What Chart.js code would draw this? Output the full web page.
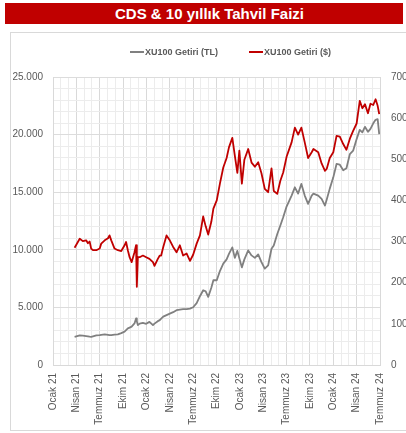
<!DOCTYPE html>
<html>
<head>
<meta charset="utf-8">
<script src="https://cdn.jsdelivr.net/npm/chart.js@4.4.1/dist/chart.umd.min.js"></script>
<style>
  html, body { margin: 0; padding: 0; background: #fff; width: 406px; height: 433px; overflow: hidden; }
  #title {
    position: absolute; left: 5px; top: 3px; width: 398px; height: 21px;
    background: #C00000; color: #fff;
    font: bold 15px "Liberation Sans", Arial, sans-serif; line-height: 22px;
    text-align: center; padding-left: 11px; box-sizing: border-box; white-space: nowrap;
  }
  #box { position: absolute; left: 10px; top: 32px; width: 430px; height: 397px; border: 1px solid #d9d9d9; }
  #wrap { position: absolute; left: 11px; top: 33px; width: 420px; height: 397px; }
  #legend {
    position: absolute; left: 130px; top: 46px; height: 12px;
    display: flex; align-items: center; white-space: nowrap;
    font: bold 9px "Liberation Sans", Arial, sans-serif; color: #595959;
  }
  #legend .item { display: flex; align-items: center; margin-right: 31px; }
  #legend .swatch { display: inline-block; width: 14px; height: 2px; margin-right: 1px; }
</style>
</head>
<body>
<div id="title">CDS &amp; 10 yıllık Tahvil Faizi</div>
<div id="box"></div>
<div id="wrap"><canvas id="c"></canvas></div>
<div id="legend"></div>
<script>
// Observation dates
const dates = [
  '2021-03-25','2021-04-14','2021-04-26','2021-05-09','2021-05-16','2021-05-23','2021-05-29','2021-06-05',
  '2021-06-18','2021-07-01','2021-07-07','2021-07-21','2021-08-03','2021-08-09','2021-08-16','2021-08-29',
  '2021-09-11','2021-09-24','2021-10-07','2021-10-13','2021-10-20','2021-10-27','2021-11-04','2021-11-15',
  '2021-11-21','2021-11-24','2021-11-28','2021-12-05','2021-12-18','2021-12-31','2022-01-13','2022-01-27',
  '2022-02-02','2022-02-14','2022-02-21','2022-02-26','2022-03-06','2022-03-19','2022-04-01','2022-04-14',
  '2022-04-27','2022-05-10','2022-05-23','2022-06-06','2022-06-19','2022-07-01','2022-07-15','2022-07-28',
  '2022-08-10','2022-08-20','2022-08-30','2022-09-11','2022-09-19','2022-10-02','2022-10-15','2022-10-28',
  '2022-11-10','2022-11-19','2022-12-02','2022-12-12','2022-12-22','2022-12-30','2023-01-09','2023-01-19',
  '2023-02-03','2023-02-15','2023-02-27','2023-03-12','2023-03-25','2023-04-07','2023-04-20','2023-05-03',
  '2023-05-12','2023-05-26','2023-06-07','2023-06-18','2023-07-01','2023-07-21','2023-08-03','2023-08-16',
  '2023-08-29','2023-09-11','2023-09-24','2023-10-08','2023-10-15','2023-11-03','2023-11-16','2023-11-29',
  '2023-12-06','2023-12-18','2024-01-01','2024-01-14','2024-01-27','2024-02-09','2024-02-21','2024-03-05',
  '2024-03-18','2024-04-01','2024-04-13','2024-04-23','2024-05-03','2024-05-15','2024-05-25','2024-06-05',
  '2024-06-14','2024-06-22','2024-06-28'
];

// XU100 return index in TL (left axis)
const xu100TL = [
  2450, 2570, 2550, 2510, 2490, 2465, 2450, 2490,
  2570, 2595, 2620, 2655, 2620, 2595, 2595, 2630,
  2655, 2770, 2900, 3030, 3175, 3245, 3330, 3605,
  4040, 3805, 3460, 3590, 3650, 3575, 3745, 3460,
  3590, 3805, 3895, 4020, 4195, 4325, 4455, 4585,
  4760, 4800, 4845, 4845, 4890, 5015, 5365, 5970,
  6490, 6400, 5910, 6705, 7355, 7355, 8175, 8800,
  9170, 9645, 10210, 9300, 9905, 9255, 8475, 9170,
  9950, 9515, 9300, 9600, 8935, 8365, 8650, 10095,
  10380, 11375, 12110, 12830, 13755, 14705, 15425, 14880,
  15720, 14705, 13990, 14705, 14880, 14705, 14420, 13840,
  14360, 15310, 16290, 17450, 17390, 16910, 17085, 18315,
  18600, 19610, 20415, 20200, 20675, 20240, 20500, 20975,
  21280, 21340, 20045
];

// XU100 return index in USD (right axis)
const xu100USD = [
  285, 307, 301, 303, 296, 300, 283, 279,
  279, 283, 295, 303, 308, 315, 303, 283,
  279, 277, 291, 299, 279, 262, 250, 274,
  291, 190, 262, 262, 266, 262, 258, 250,
  241, 258, 266, 266, 287, 315, 303, 287,
  274, 291, 266, 271, 253, 268, 295, 315,
  361, 337, 317, 348, 380, 400, 442, 480,
  503, 529, 552, 509, 467, 521, 441, 499,
  525, 492, 482, 493, 466, 428, 420, 478,
  423, 416, 448, 468, 506, 541, 577, 560,
  577, 541, 503, 517, 525, 517, 490, 472,
  477, 503, 517, 557, 555, 537, 523, 550,
  569, 587, 642, 624, 634, 612, 635, 632,
  646, 630, 610
];

// Quarterly axis labels (one every three months from January 2021)
const tickLabels = [
  'Ocak 21','Nisan 21','Temmuz 21','Ekim 21',
  'Ocak 22','Nisan 22','Temmuz 22','Ekim 22',
  'Ocak 23','Nisan 23','Temmuz 23','Ekim 23',
  'Ocak 24','Nisan 24','Temmuz 24'
];

const seriesNames = ['XU100 Getiri (TL)', 'XU100 Getiri ($)'];
const seriesColors = ['#808080', '#C00000'];

// Months elapsed since 1 January 2021, as a fractional number
function monthPos(d) {
  const [y, m, day] = d.split('-').map(Number);
  const dim = new Date(y, m, 0).getDate();
  return (y - 2021) * 12 + (m - 1) + (day - 1) / dim;
}

// Turkish thousands separator
function fmtTR(v) {
  return String(v).replace(/\B(?=(\d{3})+(?!\d))/g, '.');
}

const xs = dates.map(monthPos);
const toPoints = vals => vals.map((v, i) => ({ x: xs[i], y: v }));

const tickFont = { family: '"Liberation Sans", Arial, sans-serif', size: 10 };
const tickColor = '#595959';

const chart = new Chart(document.getElementById('c'), {
  type: 'line',
  data: {
    datasets: [
      {
        label: seriesNames[0], data: toPoints(xu100TL), yAxisID: 'y',
        borderColor: seriesColors[0], backgroundColor: seriesColors[0],
        borderWidth: 1.8, pointRadius: 0, tension: 0, borderJoinStyle: 'round'
      },
      {
        label: seriesNames[1], data: toPoints(xu100USD), yAxisID: 'y1',
        borderColor: seriesColors[1], backgroundColor: seriesColors[1],
        borderWidth: 1.8, pointRadius: 0, tension: 0, borderJoinStyle: 'round'
      }
    ]
  },
  options: {
    responsive: true,
    maintainAspectRatio: false,
    animation: false,
    layout: { padding: { top: 44, left: 0, right: 0, bottom: 0 } },
    plugins: { legend: { display: false }, tooltip: { enabled: false } },
    scales: {
      x: {
        type: 'linear', min: 0, max: 42,
        afterFit: s => { s.height = 65; },
        border: { display: true, color: '#d9d9d9' },
        grid: {
          drawTicks: false,
          color: c => (c.tick && c.tick.value % 3 === 0) ? '#d9d9d9' : '#ececec'
        },
        ticks: {
          stepSize: 1, autoSkip: false, maxRotation: 90, minRotation: 90, padding: 8,
          font: tickFont, color: tickColor,
          callback: v => (v % 3 === 0 ? tickLabels[v / 3] : '')
        }
      },
      y: {
        position: 'left', min: 0, max: 25000,
        afterFit: s => { s.width = 42; },
        border: { display: true, color: '#d9d9d9' },
        grid: {
          drawTicks: false,
          color: c => (c.tick && c.tick.value % 5000 === 0) ? '#dcdcdc' : '#ececec'
        },
        ticks: {
          stepSize: 1000, autoSkip: false, padding: 10,
          font: tickFont, color: tickColor,
          callback: v => (v % 5000 === 0 ? fmtTR(v) : '')
        }
      },
      y1: {
        position: 'right', min: 0, max: 700,
        afterFit: s => { s.width = 51; },
        border: { display: false },
        grid: { display: false, drawTicks: false },
        ticks: {
          stepSize: 100, autoSkip: false, padding: 11,
          font: tickFont, color: tickColor
        }
      }
    }
  }
});

// HTML legend built from the chart's datasets
const legendEl = document.getElementById('legend');
chart.data.datasets.forEach(ds => {
  const item = document.createElement('span');
  item.className = 'item';
  const sw = document.createElement('span');
  sw.className = 'swatch';
  sw.style.background = ds.borderColor;
  const txt = document.createElement('span');
  txt.textContent = ds.label;
  item.appendChild(sw);
  item.appendChild(txt);
  legendEl.appendChild(item);
});
</script>
</body>
</html>
